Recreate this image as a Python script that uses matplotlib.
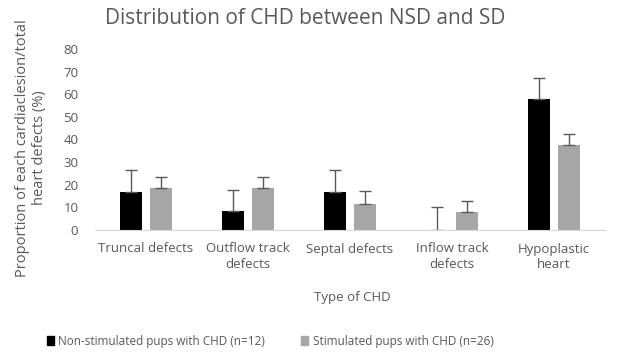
import matplotlib
matplotlib.use("Agg")
import matplotlib.pyplot as plt
from matplotlib.patches import Patch
import numpy as np

plt.rcParams['font.family'] = ['Open Sans', 'DejaVu Sans']

categories = ["Truncal defects", "Outflow track\ndefects", "Septal defects",
              "Inflow track\ndefects", "Hypoplastic\nheart"]
non_stim = [16.7, 8.3, 16.7, 0, 57.8]
non_stim_err = [9.7, 9.3, 9.7, 10.1, 9.2]
stim = [18.5, 18.5, 11.4, 7.8, 37.5]
stim_err = [5.0, 5.0, 5.8, 5.2, 4.8]
labels = ["Non-stimulated pups with CHD (n=12)", "Stimulated pups with CHD (n=26)"]

txt = '#595959'
fig = plt.figure(figsize=(6.22, 3.56), dpi=100)
ax = fig.add_axes([95/622, 1-230/356, 510/622, 181/356])

x = np.arange(len(categories))
w = 0.215
off = 0.145
ekw = dict(ecolor='#595959', elinewidth=1, capthick=1)
ax.bar(x - off, non_stim, w, color='black',
       yerr=[[0]*5, non_stim_err], capsize=4, error_kw=ekw)
ax.bar(x + off, stim, w, color='#a6a6a6',
       yerr=[[0]*5, stim_err], capsize=4, error_kw=ekw)

ax.set_xlim(-0.5, 4.5)
ax.set_ylim(0, 80)
ax.set_yticks(range(0, 81, 10))
ax.set_xticks(x)
ax.set_xticklabels(categories, linespacing=1.25)
ax.tick_params(axis='both', length=0, colors=txt, labelsize=9.5)
ax.tick_params(axis='y', pad=12)
ax.tick_params(axis='x', pad=9)
for s in ['top', 'right', 'left']:
    ax.spines[s].set_visible(False)
ax.spines['bottom'].set_color('#d9d9d9')

fig.text(305/622, 1-18/356, "Distribution of CHD between NSD and SD",
         ha='center', va='center', fontsize=15, color=txt)
fig.text(31/622, 1-148/356, "Proportion of each cardiaclesion/total\nheart defects (%)",
         rotation=90, ha='center', va='center', fontsize=10.5, color=txt,
         linespacing=1.2)
fig.text(352/622, 1-297/356, "Type of CHD", ha='center', va='center',
         fontsize=9.5, color=txt)

handles = [Patch(color='black'), Patch(color='#a6a6a6')]
fig.legend(handles, labels, loc='center', bbox_to_anchor=(270/622, 1-341/356),
           ncol=2, frameon=False, fontsize=8.5, labelcolor=txt,
           handlelength=0.6, handleheight=0.9, handletextpad=0.4,
           columnspacing=3.0)

fig.savefig("out.png", dpi=100)
